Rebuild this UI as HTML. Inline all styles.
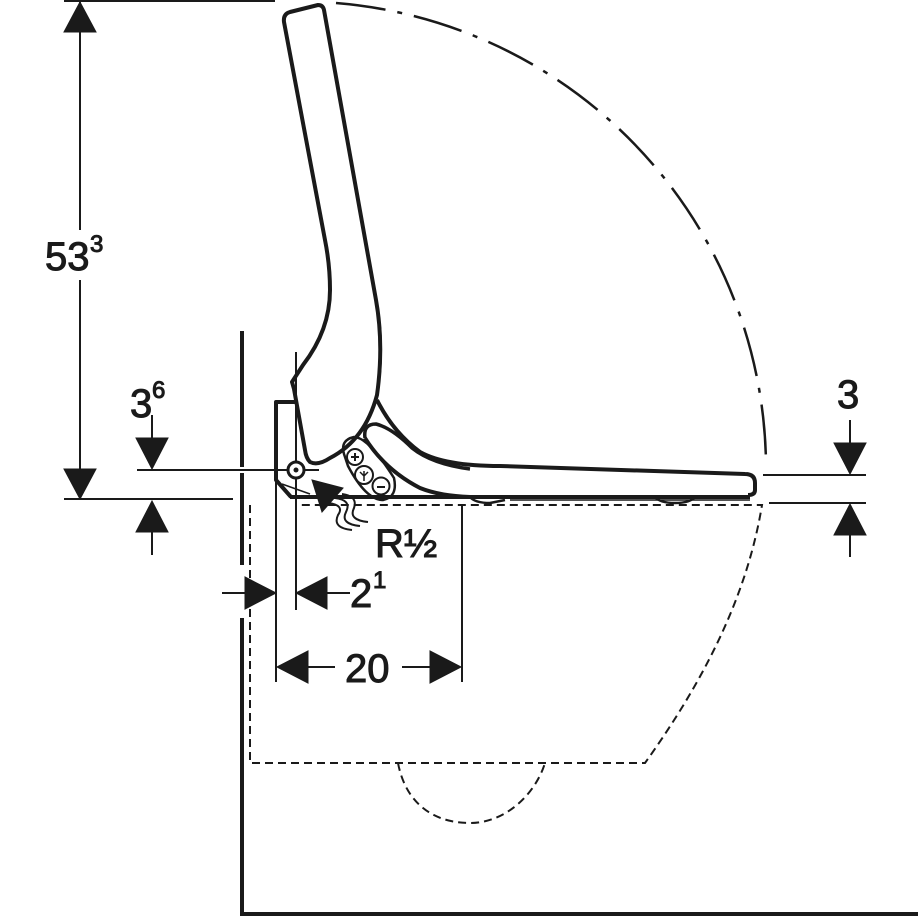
<!DOCTYPE html>
<html><head><meta charset="utf-8"><style>
html,body{margin:0;padding:0;background:#fff;}
svg{display:block;}
text{font-family:"Liberation Sans",sans-serif;fill:#1a1a1a;}
</style></head><body>
<svg width="918" height="918" viewBox="0 0 918 918" xmlns="http://www.w3.org/2000/svg">
<g stroke="#1a1a1a" fill="none">
<g stroke-width="2">
<line x1="64" y1="1" x2="275" y2="1"/>
<line x1="80" y1="2" x2="80" y2="230"/>
<line x1="80" y1="280" x2="80" y2="499"/>
<line x1="64" y1="499" x2="233" y2="499"/>
<line x1="137" y1="470" x2="285" y2="470"/>
<line x1="152" y1="415" x2="152" y2="445"/>
<line x1="152" y1="525" x2="152" y2="555"/>
<line x1="763" y1="475" x2="866" y2="475"/>
<line x1="769" y1="503" x2="866" y2="503"/>
<line x1="850" y1="420" x2="850" y2="448"/>
<line x1="850" y1="530" x2="850" y2="557"/>
<line x1="276" y1="480" x2="276" y2="682"/>
<line x1="296" y1="352" x2="296" y2="610"/>
<line x1="462" y1="505" x2="462" y2="682"/>
<line x1="222" y1="593" x2="250" y2="593"/>
<line x1="320" y1="593" x2="350" y2="593"/>
<line x1="300" y1="667" x2="335" y2="667"/>
<line x1="402" y1="667" x2="440" y2="667"/>
<line x1="275" y1="470" x2="319" y2="470"/>
</g>
<g stroke-width="4">
<line x1="242" y1="331" x2="242" y2="467"/>
<line x1="242" y1="473" x2="242" y2="565"/>
<line x1="242" y1="618" x2="242" y2="914"/>
<line x1="240" y1="914" x2="918" y2="914"/>
</g>
<g stroke-width="2" stroke-dasharray="8,5">
<path d="M250 505 L250 763 L645 763 C690 700 745 610 762 505 L295 505"/>
<path d="M398 763 C405 800 430 823 470 823 C505 823 535 795 545 763"/>
</g>
<path d="M336 3 A468 468 0 0 1 766 462" stroke-width="2.5" stroke-dasharray="50,12,5,12"/>
<g stroke-width="4" stroke-linejoin="round">
<path d="M290 12 L318 5 Q323 5 324 10 L376 300 Q384 345 377 395 Q365 440 330 458 Q318 466 310 462 Q306 458 305 450 L294 389 L292 382 L303 365 Q330 330 330 290 Q330 265 325 240 L284 22 Q283 14 290 12 Z"/>
<path d="M295 402 L276 402 L276 480 L291 497"/>
<line x1="282" y1="484" x2="310" y2="494" stroke-width="1.5"/>
<path d="M377 400 Q393 432 420 452 Q445 466 500 466 L745 474 Q755 474 755 483 L755 490 Q755 495 748 495"/>
<path d="M290 497 L750 497" />
<path d="M365 438 Q363 424 376 424 Q392 428 412 448 Q432 464 470 469" stroke-width="3.5"/>
<path d="M365 438 Q385 470 420 488 Q440 496 470 497"/>
<path d="M470 497 Q475 503 490 503 L505 500" stroke-width="2.5"/>
<path d="M655 497 Q660 503 675 503 Q690 503 695 497" stroke-width="2.5"/>
<line x1="510" y1="500" x2="750" y2="500" stroke-width="1.5"/>
<path d="M344 454 Q340 440 354 437 Q368 437 394 478 Q398 497 383 500 Q366 500 348 466 Z" stroke-width="2.5"/>
<circle cx="355" cy="457" r="8" stroke-width="2"/>
<circle cx="364" cy="475" r="9" stroke-width="2"/>
<circle cx="381" cy="486" r="8.5" stroke-width="2"/>
<line x1="351" y1="457" x2="359" y2="457" stroke-width="2"/>
<line x1="355" y1="453" x2="355" y2="461" stroke-width="2"/>
<line x1="377" y1="487" x2="385" y2="487" stroke-width="2"/>
<path d="M364 481 L364 471 M360 472 L364 476 L368 472" stroke-width="1.5"/>
<circle cx="296" cy="470" r="8" stroke-width="3" fill="#fff"/>
<circle cx="296" cy="470" r="2.5" fill="#1a1a1a" stroke="none"/>
<g stroke-width="2">
<path d="M328 503 Q345 505 338 515 Q332 528 352 530"/>
<path d="M335 498 Q352 500 346 512 Q340 524 360 526"/>
<path d="M342 494 Q358 496 354 508 Q348 520 368 522"/>
</g>
</g>
<g fill="#1a1a1a">
<polygon points="80,2 64,32 96,32"/>
<polygon points="80,499 64,469 96,469"/>
<polygon points="152,469 136,438 168,438"/>
<polygon points="152,501 136,532 168,532"/>
<polygon points="850,474 834,443 866,443"/>
<polygon points="850,504 834,535 866,535"/>
<polygon points="276,593 245,577 245,609"/>
<polygon points="296,593 327,577 327,609"/>
<polygon points="277,667 308,651 308,683"/>
<polygon points="461,667 430,651 430,683"/>
<polygon points="312,480 322,512 343,488"/>
</g>
<text x="45" y="270" font-size="40">53</text><text x="90" y="252" font-size="24">3</text>
<text x="130" y="417" font-size="40">3</text><text x="152" y="398" font-size="24">6</text>
<text x="837" y="408" font-size="40">3</text>
<text x="350" y="607" font-size="40">2</text><text x="373" y="588" font-size="24">1</text>
<text x="345" y="682" font-size="40">20</text>
<text x="375" y="557" font-size="40">R½</text>
</svg>
</body></html>
